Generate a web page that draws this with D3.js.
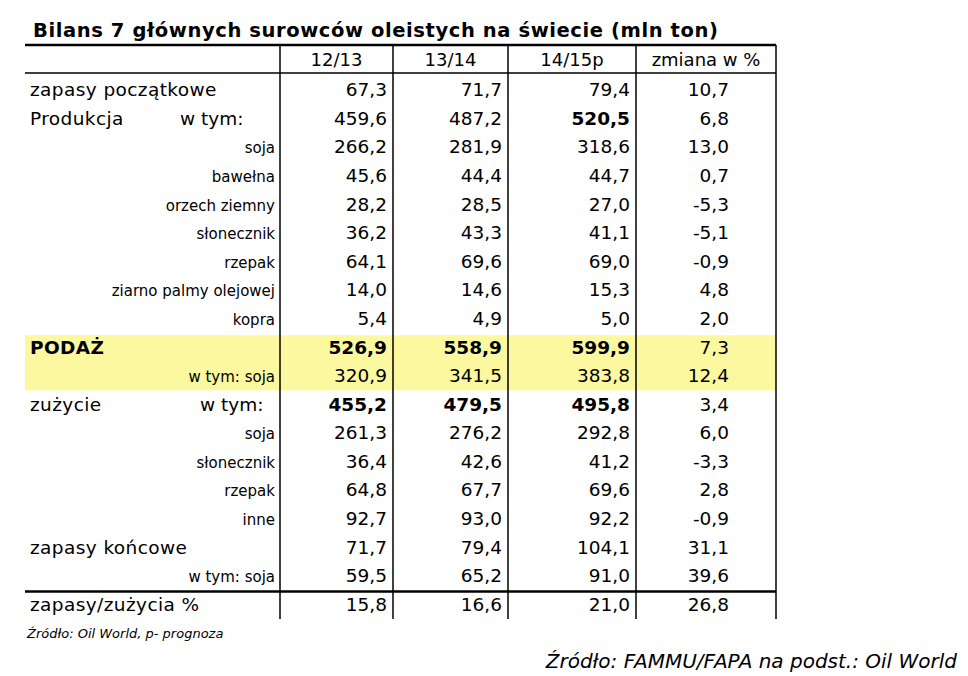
<!DOCTYPE html><html><head><meta charset="utf-8">
<script src="https://cdn.jsdelivr.net/npm/d3@7"></script>
<style>body{margin:0;background:#fff}</style></head><body><svg id="c" width="968" height="676"></svg>
<script>
const columns=["12/13","13/14","14/15p","zmiana w %"];
const labels=["zapasy początkowe","Produkcja","soja","bawełna","orzech ziemny","słonecznik","rzepak","ziarno palmy olejowej","kopra","PODAŻ","w tym: soja","zużycie","soja","słonecznik","rzepak","inne","zapasy końcowe","w tym: soja","zapasy/zużycia %"];
const labelKind=["main","main","sub","sub","sub","sub","sub","sub","sub","bold","sub","main","sub","sub","sub","sub","main","sub","main"];
const v1213=[67.3,459.6,266.2,45.6,28.2,36.2,64.1,14.0,5.4,526.9,320.9,455.2,261.3,36.4,64.8,92.7,71.7,59.5,15.8];
const v1314=[71.7,487.2,281.9,44.4,28.5,43.3,69.6,14.6,4.9,558.9,341.5,479.5,276.2,42.6,67.7,93.0,79.4,65.2,16.6];
const v1415=[79.4,520.5,318.6,44.7,27.0,41.1,69.0,15.3,5.0,599.9,383.8,495.8,292.8,41.2,69.6,92.2,104.1,91.0,21.0];
const change=[10.7,6.8,13.0,0.7,-5.3,-5.1,-0.9,4.8,2.0,7.3,12.4,3.4,6.0,-3.3,2.8,-0.9,31.1,39.6,26.8];
const boldCells=[[],[2],[],[],[],[],[],[],[],[0,1,2],[],[0,1,2],[],[],[],[],[],[],[]];
const highlightRows=[9,10];

const svg=d3.select("#c");
const F="DejaVu Sans, Verdana, sans-serif";
const y=d3.scaleBand().domain(d3.range(labels.length)).range([76,619]);
const colEdges=[280,393,508,636,776];
const fmt=v=>d3.format(".1f")(v).replace(".",",").replace("\u2212","-");

svg.append("rect").attr("x",25).attr("width",751).attr("y",y(highlightRows[0])+2).attr("height",y.bandwidth()*2-2).attr("fill","#fbf8a0");

svg.append("text").attr("x",33).attr("y",37).attr("font-family",F).attr("font-weight","bold").attr("font-size",19.5).attr("letter-spacing",0.6).text("Bilans 7 głównych surowców oleistych na świecie  (mln ton)");

const line=(x1,y1,x2,y2,w)=>svg.append("line").attr("x1",x1).attr("y1",y1).attr("x2",x2).attr("y2",y2).attr("stroke","#000").attr("stroke-width",w);
line(25,45,776,45,2.5);
line(25,73,776,73,1.5);
line(25,y(18)+1,776,y(18)+1,2.5);
colEdges.forEach(x=>line(x,45,x,619,1.5));

columns.forEach((c,i)=>{
  svg.append("text").attr("x",(colEdges[i]+colEdges[i+1])/2).attr("y",66).attr("text-anchor","middle").attr("font-family",F).attr("font-size",18).text(c);
});

labels.forEach((l,i)=>{
  const cy=y(i)+y.bandwidth()/2+6;
  const k=labelKind[i];
  if(k==="sub"){
    svg.append("text").attr("x",275).attr("y",cy).attr("text-anchor","end").attr("font-family",F).attr("font-size",15).text(l);
  } else {
    svg.append("text").attr("x",30).attr("y",cy).attr("font-family",F).attr("font-size",18.5).attr("font-weight",k==="bold"?"bold":"normal").attr("letter-spacing",0.4).text(l);
    if(l==="Produkcja") svg.append("text").attr("x",180).attr("y",cy).attr("font-family",F).attr("font-size",18.5).text("w tym:");
    if(l==="zużycie") svg.append("text").attr("x",200).attr("y",cy).attr("font-family",F).attr("font-size",18.5).text("w tym:");
  }
  [v1213[i],v1314[i],v1415[i]].forEach((v,j)=>{
    svg.append("text").attr("x",colEdges[j+1]-6).attr("y",cy).attr("text-anchor","end").attr("font-family",F).attr("font-size",18.5)
      .attr("font-weight",boldCells[i].includes(j)?"bold":"normal").text(fmt(v));
  });
  svg.append("text").attr("x",729).attr("y",cy).attr("text-anchor","end").attr("font-family",F).attr("font-size",18.5).text(fmt(change[i]));
});

svg.append("text").attr("x",27).attr("y",638).attr("font-family",F).attr("font-style","italic").attr("font-size",13).text("Źródło: Oil World, p- prognoza");
svg.append("text").attr("x",957).attr("y",668).attr("text-anchor","end").attr("font-family",F).attr("font-style","italic").attr("font-size",20).text("Źródło: FAMMU/FAPA na podst.: Oil World");
</script></body></html>
